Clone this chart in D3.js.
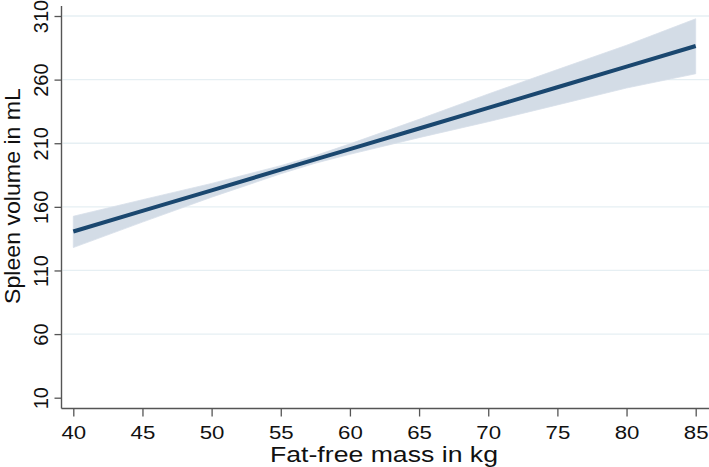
<!DOCTYPE html>
<html><head><meta charset="utf-8">
<script src="https://cdn.jsdelivr.net/npm/d3@7"></script>
<style>html,body{margin:0;padding:0;background:#fff;}svg{display:block;font-family:"Liberation Sans",Arial,sans-serif;}</style>
</head><body>
<svg id="c" width="709" height="467"></svg>
<script>
const massKg = [40, 45, 50, 55, 57.5, 60, 65, 70, 75, 80, 85];
const fitted = [140.6, 156.8, 173.0, 189.2, 197.3, 205.4, 221.6, 237.8, 254.0, 270.2, 286.4];
const ciLower = [128.0, 148.0, 167.6, 186.0, 194.3, 201.3, 214.4, 226.9, 240.1, 253.4, 264.6];
const ciUpper = [152.6, 165.6, 178.4, 192.4, 200.3, 209.5, 228.8, 248.7, 267.9, 287.0, 307.8];
const xTicks = [40, 45, 50, 55, 60, 65, 70, 75, 80, 85];
const yTicks = [10, 60, 110, 160, 210, 260, 310];
const xTitle = "Fat-free mass in kg";
const yTitle = "Spleen volume in mL";

(function () {
const svg = d3.select("#c");
const x = d3.scaleLinear().domain([40, 85]).range([73.3, 695.7]);
const y = d3.scaleLinear().domain([10, 310]).range([397.7, 16]);
const pLeft = 61.5, pBottom = 408.5, pTop = 6, pRight = 709;
const font = "Liberation Sans, Arial, sans-serif";

// gridlines
svg.append("g").selectAll("line").data(yTicks.filter(d => d !== 10)).join("line")
  .attr("x1", pLeft + 1).attr("x2", pRight).attr("y1", d => y(d)).attr("y2", d => y(d))
  .attr("stroke", "#e6eff3").attr("stroke-width", 1.3);

const rows = massKg.map((m, i) => ({m, f: fitted[i], lo: ciLower[i], hi: ciUpper[i]}));
svg.append("path").datum(rows)
  .attr("d", d3.area().x(d => x(d.m)).y0(d => y(d.lo)).y1(d => y(d.hi)))
  .attr("fill", "#d3dce6").attr("stroke", "#d8e0ea").attr("stroke-width", 0.8);
svg.append("path").datum(rows)
  .attr("d", d3.line().x(d => x(d.m)).y(d => y(d.f)))
  .attr("fill", "none").attr("stroke", "#1a476f").attr("stroke-width", 4);

// x axis
const xAxis = d3.axisBottom(x).tickValues(xTicks).tickSize(8).tickSizeOuter(0);
const gx = svg.append("g").attr("transform", `translate(0,${pBottom})`).call(xAxis);
gx.select(".domain").remove();
gx.append("line").attr("x1", pLeft).attr("x2", pRight).attr("y1", 0).attr("y2", 0).attr("stroke", "#555").attr("stroke-width", 1.4);
gx.selectAll(".tick line").attr("stroke", "#555").attr("stroke-width", 1.3);
gx.selectAll(".tick text").attr("font-size", 17.5).attr("fill", "#111").attr("font-family", font)
  .attr("y", 30.5).attr("dy", null).attr("transform", "scale(1.27,1)");

// y axis
const yAxis = d3.axisLeft(y).tickValues(yTicks).tickSize(7).tickSizeOuter(0);
const gy = svg.append("g").attr("transform", `translate(${pLeft},0)`).call(yAxis);
gy.select(".domain").remove();
gy.append("line").attr("x1", 0).attr("x2", 0).attr("y1", pTop).attr("y2", pBottom).attr("stroke", "#555").attr("stroke-width", 1.4);
gy.selectAll(".tick line").attr("stroke", "#555").attr("stroke-width", 1.3);
gy.selectAll(".tick text")
  .attr("font-size", 20).attr("fill", "#111").attr("font-family", font)
  .attr("x", null).attr("dy", null)
  .attr("text-anchor", "middle")
  .attr("transform", "translate(-13.5,0) rotate(-90)");

svg.append("text").attr("x", 384).attr("y", 461.5).attr("text-anchor", "middle")
  .attr("font-size", 22.5).attr("fill", "#111")
  .attr("textLength", 228).attr("lengthAdjust", "spacingAndGlyphs").text(xTitle);
svg.append("text").attr("transform", `translate(20,196) rotate(-90)`)
  .attr("text-anchor", "middle").attr("font-size", 22.5).attr("fill", "#111")
  .attr("textLength", 216).attr("lengthAdjust", "spacingAndGlyphs").text(yTitle);
})();
</script>
</body></html>
